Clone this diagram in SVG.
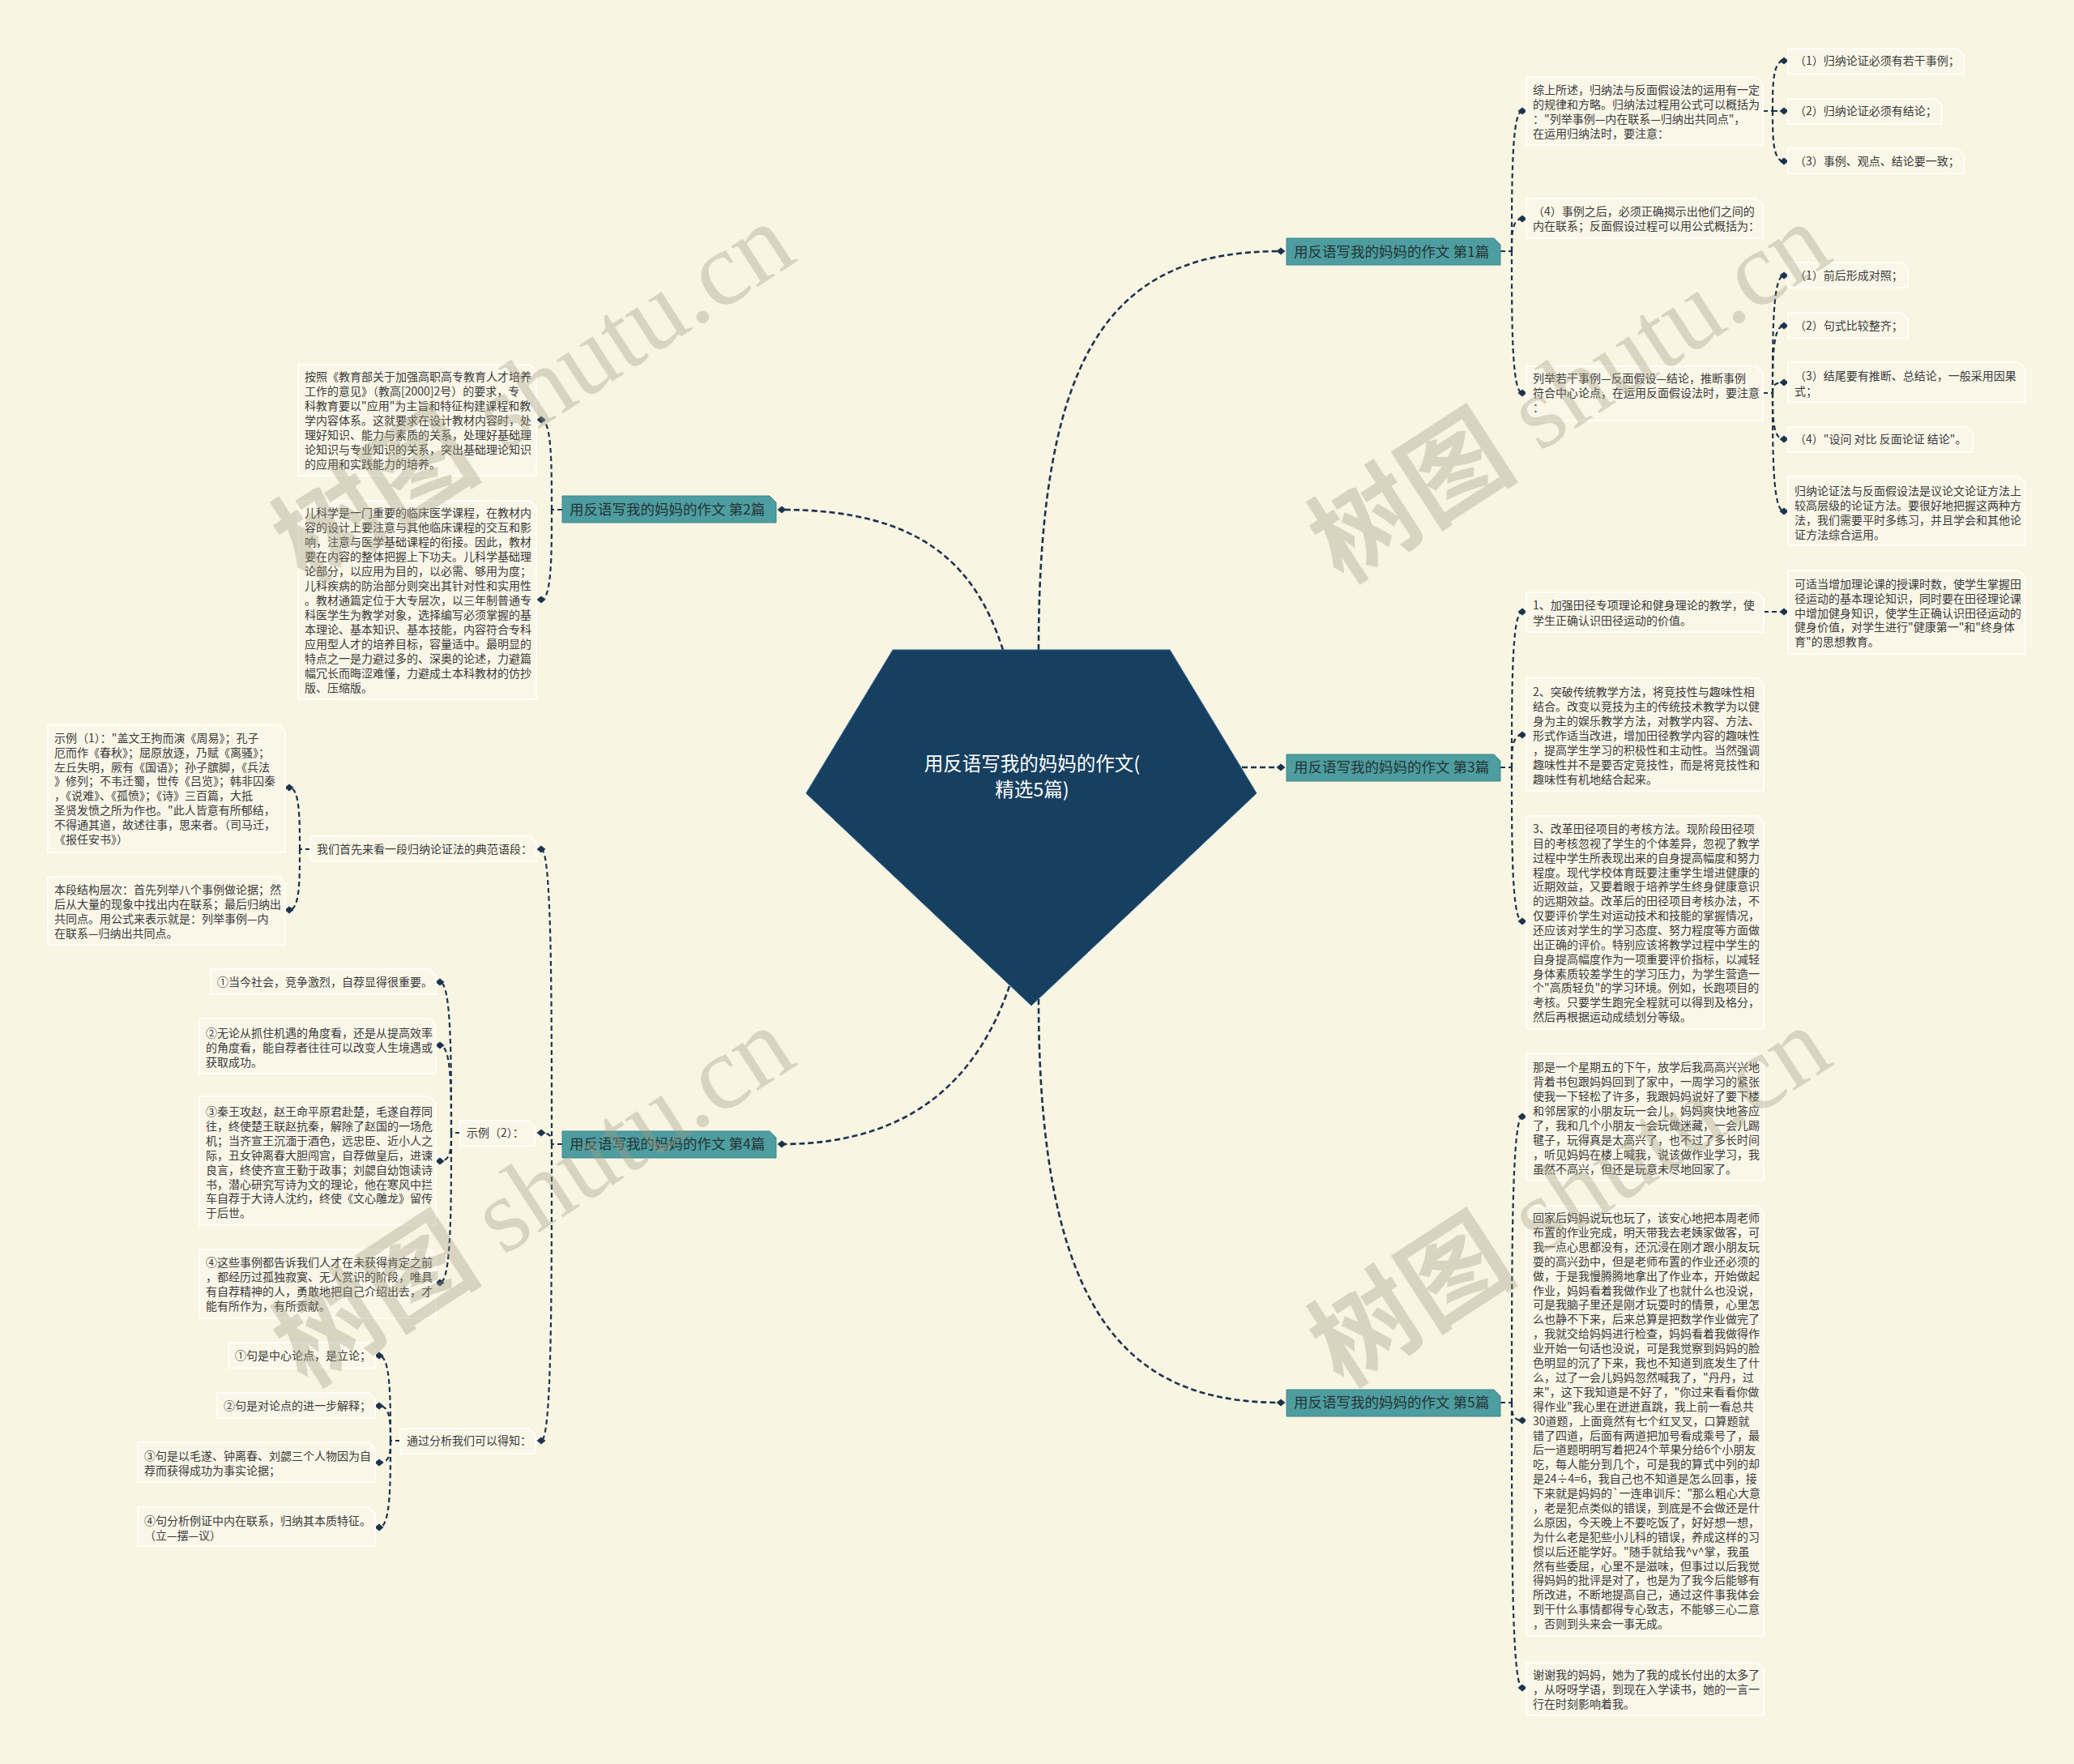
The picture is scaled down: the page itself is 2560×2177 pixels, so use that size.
<svg xmlns="http://www.w3.org/2000/svg" width="2560" height="2177" viewBox="0 0 2560 2177">
<defs>
<style>
.bg{fill:#f9f5e3}
.box{fill:#faf7e9;stroke:#fffdf6;stroke-width:2}
.l1{fill:#4e9da0;stroke:#3c878c;stroke-width:1}
.t{font-family:"Noto Sans CJK SC","Noto Sans",sans-serif;font-size:14px;fill:#3a3a3a}
.l1t{font-family:"Noto Sans CJK SC","Noto Sans",sans-serif;font-size:17.5px;fill:#243434}
.ct{font-family:"Noto Sans CJK SC","Noto Sans",sans-serif;font-size:23.5px;fill:#ffffff}
.c{fill:none;stroke:#1c344e;stroke-width:2.2;stroke-dasharray:6 4;marker-end:url(#dm)}
.s{fill:none;stroke:#1c344e;stroke-width:2.2;stroke-dasharray:6 4}
.m{fill:none;stroke:#1c344e;stroke-width:2.6;stroke-dasharray:7 4;marker-end:url(#dm)}
.wm{font-family:"Liberation Serif",serif;font-size:130px;fill:#a09b82;fill-opacity:0.36}
.wmc{font-family:"Noto Sans CJK SC",sans-serif;font-weight:bold}
</style>
<marker id="dm" viewBox="-6 -6 12 12" markerWidth="12" markerHeight="12" refX="0" refY="0" orient="auto" markerUnits="userSpaceOnUse">
<path d="M-5.5,0 L0,-4.5 L5.5,0 L0,4.5 Z" fill="#1c344e"/>
</marker>
</defs>
<rect class="bg" x="0" y="0" width="2560" height="2177"/>

<g id="connectors">
<path class="m" d="M1282,802 C1282,420 1380,310 1581,310"/>
<path class="m" d="M1238,802 C1205,700 1140,629 965,629"/>
<path class="m" d="M1500,947 L1581,947"/>
<path class="m" d="M1246,1217 C1212,1315 1140,1412 965,1412"/>
<path class="m" d="M1282,1233 C1282,1620 1390,1731 1581,1731"/>

<path class="s" d="M1852,310 H1866"/>
<path class="c" d="M1866,310 C1866,224 1866,137 1879,137"/>
<path class="c" d="M1866,310 C1866,290 1866,270 1879,270"/>
<path class="c" d="M1866,310 C1866,398 1866,485 1879,485"/>
<path class="s" d="M2176,137 H2188"/>
<path class="c" d="M2188,137 C2188,106 2188,75 2202,75"/>
<path class="c" d="M2188,137 L2202,137"/>
<path class="c" d="M2188,137 C2188,168 2188,199 2202,199"/>
<path class="s" d="M2176,485 H2188"/>
<path class="c" d="M2188,485 C2188,412 2188,340 2202,340"/>
<path class="c" d="M2188,485 C2188,444 2188,402 2202,402"/>
<path class="c" d="M2188,485 C2188,478 2188,472 2202,472"/>
<path class="c" d="M2188,485 C2188,514 2188,542 2202,542"/>
<path class="c" d="M2188,485 C2188,558 2188,631 2202,631"/>

<path class="s" d="M1852,947 H1866"/>
<path class="c" d="M1866,947 C1866,851 1866,755 1879,755"/>
<path class="c" d="M1866,947 C1866,927 1866,907 1879,907"/>
<path class="c" d="M1866,947 C1866,1042 1866,1137 1879,1137"/>
<path class="c" d="M2177,755 L2202,755"/>

<path class="s" d="M1852,1731 H1866"/>
<path class="c" d="M1866,1731 C1866,1554 1866,1378 1879,1378"/>
<path class="c" d="M1866,1731 C1866,1742 1866,1753 1879,1753"/>
<path class="c" d="M1866,1731 C1866,1907 1866,2083 1879,2083"/>

<path class="s" d="M694,629 H681"/>
<path class="c" d="M681,629 C681,574 681,518 668,518"/>
<path class="c" d="M681,629 C681,684 681,740 668,740"/>

<path class="s" d="M694,1412 H681"/>
<path class="c" d="M681,1412 C681,1230 681,1048 668,1048"/>
<path class="c" d="M681,1412 C681,1405 681,1398 668,1398"/>
<path class="c" d="M681,1412 C681,1595 681,1778 668,1778"/>

<path class="s" d="M383,1048 H370"/>
<path class="c" d="M370,1048 C370,1010 370,972 357,972"/>
<path class="c" d="M370,1048 C370,1086 370,1123 357,1123"/>

<path class="s" d="M568,1398 H557"/>
<path class="c" d="M557,1398 C557,1305 557,1212 543,1212"/>
<path class="c" d="M557,1398 C557,1344 557,1290 543,1290"/>
<path class="c" d="M557,1398 C557,1416 557,1433 543,1433"/>
<path class="c" d="M557,1398 C557,1490 557,1583 543,1583"/>

<path class="s" d="M494,1778 H482"/>
<path class="c" d="M482,1778 C482,1726 482,1673 468,1673"/>
<path class="c" d="M482,1778 C482,1756 482,1735 468,1735"/>
<path class="c" d="M482,1778 C482,1792 482,1805 468,1805"/>
<path class="c" d="M482,1778 C482,1832 482,1885 468,1885"/>
</g>

<g id="center">
<polygon points="1102,802 1444,802 1551,979 1273,1241 995,979" fill="#173f5f" stroke="#2a5f8f" stroke-width="1"/>
<text class="ct" text-anchor="middle"><tspan x="1274" y="951">用反语写我的妈妈的作文(</tspan><tspan x="1274" y="983">精选5篇)</tspan></text>
</g>

<g id="p1">
<path class="l1" d="M1588,294 H1844 L1852,302 V327 H1588 Z"/>
<text class="l1t" x="1597" y="316.5">用反语写我的妈妈的作文 第1篇</text>
</g>
<g id="p1a">
<path class="box" d="M1884,95 H2168 L2176,103 V179 H1884 Z"/>
<text class="t"><tspan x="1892" y="116">综上所述，归纳法与反面假设法的运用有一定</tspan><tspan x="1892" dy="18">的规律和方略。归纳法过程用公式可以概括为</tspan><tspan x="1892" dy="18">："列举事例—内在联系—归纳出共同点"，</tspan><tspan x="1892" dy="18">在运用归纳法时，要注意：</tspan></text>
</g>
<g id="p1a1"><path class="box" d="M2207,60 H2416 L2424,68 V91 H2207 Z"/><text class="t" x="2215" y="80">（1）归纳论证必须有若干事例；</text></g>
<g id="p1a2"><path class="box" d="M2207,122 H2389 L2397,130 V153 H2207 Z"/><text class="t" x="2215" y="142">（2）归纳论证必须有结论；</text></g>
<g id="p1a3"><path class="box" d="M2207,183 H2416 L2424,191 V214 H2207 Z"/><text class="t" x="2215" y="204">（3）事例、观点、结论要一致；</text></g>
<g id="p1b">
<path class="box" d="M1884,245 H2168 L2176,253 V294 H1884 Z"/>
<text class="t"><tspan x="1892" y="266">（4）事例之后，必须正确揭示出他们之间的</tspan><tspan x="1892" dy="18">内在联系；反面假设过程可以用公式概括为：</tspan></text>
</g>
<g id="p1c">
<path class="box" d="M1884,452 H2168 L2176,460 V519 H1884 Z"/>
<text class="t"><tspan x="1892" y="472">列举若干事例—反面假设—结论，推断事例</tspan><tspan x="1892" dy="18">符合中心论点，在运用反面假设法时，要注意</tspan><tspan x="1892" dy="18">：</tspan></text>
</g>
<g id="p1c1"><path class="box" d="M2207,324 H2347 L2355,332 V355 H2207 Z"/><text class="t" x="2215" y="345">（1）前后形成对照；</text></g>
<g id="p1c2"><path class="box" d="M2207,386 H2347 L2355,394 V417 H2207 Z"/><text class="t" x="2215" y="407">（2）句式比较整齐；</text></g>
<g id="p1c3"><path class="box" d="M2207,447 H2492 L2500,455 V496 H2207 Z"/><text class="t"><tspan x="2215" y="469">（3）结尾要有推断、总结论，一般采用因果</tspan><tspan x="2215" dy="19">式；</tspan></text></g>
<g id="p1c4"><path class="box" d="M2207,527 H2427 L2435,535 V558 H2207 Z"/><text class="t" x="2215" y="547">（4）"设问 对比 反面论证 结论"。</text></g>
<g id="p1c5"><path class="box" d="M2207,588 H2492 L2500,596 V673 H2207 Z"/><text class="t"><tspan x="2215" y="611">归纳论证法与反面假设法是议论文论证方法上</tspan><tspan x="2215" dy="18">较高层级的论证方法。要很好地把握这两种方</tspan><tspan x="2215" dy="18">法，我们需要平时多练习，并且学会和其他论</tspan><tspan x="2215" dy="18">证方法综合运用。</tspan></text></g>

<g id="p3">
<path class="l1" d="M1588,931 H1844 L1852,939 V964 H1588 Z"/>
<text class="l1t" x="1597" y="953">用反语写我的妈妈的作文 第3篇</text>
</g>
<g id="p3a"><path class="box" d="M1884,731 H2169 L2177,739 V780 H1884 Z"/><text class="t"><tspan x="1892" y="752">1、加强田径专项理论和健身理论的教学，使</tspan><tspan x="1892" dy="19">学生正确认识田径运动的价值。</tspan></text></g>
<g id="p3a1"><path class="box" d="M2207,704 H2492 L2500,712 V807 H2207 Z"/><text class="t"><tspan x="2215" y="726">可适当增加理论课的授课时数，使学生掌握田</tspan><tspan x="2215" dy="17.8">径运动的基本理论知识，同时要在田径理论课</tspan><tspan x="2215" dy="17.8">中增加健身知识，使学生正确认识田径运动的</tspan><tspan x="2215" dy="17.8">健身价值，对学生进行"健康第一"和"终身体</tspan><tspan x="2215" dy="17.8">育"的思想教育。</tspan></text></g>
<g id="p3b"><path class="box" d="M1884,837 H2169 L2177,845 V976 H1884 Z"/><text class="t"><tspan x="1892" y="859">2、突破传统教学方法，将竞技性与趣味性相</tspan><tspan x="1892" dy="18">结合。改变以竞技为主的传统技术教学为以健</tspan><tspan x="1892" dy="18">身为主的娱乐教学方法，对教学内容、方法、</tspan><tspan x="1892" dy="18">形式作适当改进，增加田径教学内容的趣味性</tspan><tspan x="1892" dy="18">，提高学生学习的积极性和主动性。当然强调</tspan><tspan x="1892" dy="18">趣味性并不是要否定竞技性，而是将竞技性和</tspan><tspan x="1892" dy="18">趣味性有机地结合起来。</tspan></text></g>
<g id="p3c"><path class="box" d="M1884,1007 H2169 L2177,1015 V1270 H1884 Z"/><text class="t"><tspan x="1892" y="1028">3、改革田径项目的考核方法。现阶段田径项</tspan><tspan x="1892" dy="17.85">目的考核忽视了学生的个体差异，忽视了教学</tspan><tspan x="1892" dy="17.85">过程中学生所表现出来的自身提高幅度和努力</tspan><tspan x="1892" dy="17.85">程度。现代学校体育既要注重学生增进健康的</tspan><tspan x="1892" dy="17.85">近期效益，又要着眼于培养学生终身健康意识</tspan><tspan x="1892" dy="17.85">的远期效益。改革后的田径项目考核办法，不</tspan><tspan x="1892" dy="17.85">仅要评价学生对运动技术和技能的掌握情况，</tspan><tspan x="1892" dy="17.85">还应该对学生的学习态度、努力程度等方面做</tspan><tspan x="1892" dy="17.85">出正确的评价。特别应该将教学过程中学生的</tspan><tspan x="1892" dy="17.85">自身提高幅度作为一项重要评价指标，以减轻</tspan><tspan x="1892" dy="17.85">身体素质较差学生的学习压力，为学生营造一</tspan><tspan x="1892" dy="17.85">个"高质轻负"的学习环境。例如，长跑项目的</tspan><tspan x="1892" dy="17.85">考核。只要学生跑完全程就可以得到及格分，</tspan><tspan x="1892" dy="17.85">然后再根据运动成绩划分等级。</tspan></text></g>

<g id="p5">
<path class="l1" d="M1588,1715 H1844 L1852,1723 V1748 H1588 Z"/>
<text class="l1t" x="1597" y="1737">用反语写我的妈妈的作文 第5篇</text>
</g>
<g id="p5a"><path class="box" d="M1884,1300 H2169 L2177,1308 V1457 H1884 Z"/><text class="t"><tspan x="1892" y="1322">那是一个星期五的下午，放学后我高高兴兴地</tspan><tspan x="1892" dy="18">背着书包跟妈妈回到了家中，一周学习的紧张</tspan><tspan x="1892" dy="18">使我一下轻松了许多，我跟妈妈说好了要下楼</tspan><tspan x="1892" dy="18">和邻居家的小朋友玩一会儿，妈妈爽快地答应</tspan><tspan x="1892" dy="18">了，我和几个小朋友一会玩做迷藏，一会儿踢</tspan><tspan x="1892" dy="18">毽子，玩得真是太高兴了，也不过了多长时间</tspan><tspan x="1892" dy="18">，听见妈妈在楼上喊我，说该做作业学习，我</tspan><tspan x="1892" dy="18">虽然不高兴，但还是玩意未尽地回家了。</tspan></text></g>
<g id="p5b"><path class="box" d="M1884,1488 H2169 L2177,1496 V2019 H1884 Z"/><text class="t"><tspan x="1892" y="1508">回家后妈妈说玩也玩了，该安心地把本周老师</tspan><tspan x="1892" dy="17.9">布置的作业完成，明天带我去老姨家做客，可</tspan><tspan x="1892" dy="17.9">我一点心思都没有，还沉浸在刚才跟小朋友玩</tspan><tspan x="1892" dy="17.9">耍的高兴劲中，但是老师布置的作业还必须的</tspan><tspan x="1892" dy="17.9">做，于是我慢腾腾地拿出了作业本，开始做起</tspan><tspan x="1892" dy="17.9">作业，妈妈看着我做作业了也就什么也没说，</tspan><tspan x="1892" dy="17.9">可是我脑子里还是刚才玩耍时的情景，心里怎</tspan><tspan x="1892" dy="17.9">么也静不下来，后来总算是把数学作业做完了</tspan><tspan x="1892" dy="17.9">，我就交给妈妈进行检查，妈妈看着我做得作</tspan><tspan x="1892" dy="17.9">业开始一句话也没说，可是我觉察到妈妈的脸</tspan><tspan x="1892" dy="17.9">色明显的沉了下来，我也不知道到底发生了什</tspan><tspan x="1892" dy="17.9">么，过了一会儿妈妈忽然喊我了，"丹丹，过</tspan><tspan x="1892" dy="17.9">来"，这下我知道是不好了，"你过来看看你做</tspan><tspan x="1892" dy="17.9">得作业"我心里在迸迸直跳，我上前一看总共</tspan><tspan x="1892" dy="17.9">30道题，上面竟然有七个红叉叉，口算题就</tspan><tspan x="1892" dy="17.9">错了四道，后面有两道把加号看成乘号了，最</tspan><tspan x="1892" dy="17.9">后一道题明明写着把24个苹果分给6个小朋友</tspan><tspan x="1892" dy="17.9">吃，每人能分到几个，可是我的算式中列的却</tspan><tspan x="1892" dy="17.9">是24÷4=6，我自己也不知道是怎么回事，接</tspan><tspan x="1892" dy="17.9">下来就是妈妈的`一连串训斥："那么粗心大意</tspan><tspan x="1892" dy="17.9">，老是犯点类似的错误，到底是不会做还是什</tspan><tspan x="1892" dy="17.9">么原因，今天晚上不要吃饭了，好好想一想，</tspan><tspan x="1892" dy="17.9">为什么老是犯些小儿科的错误，养成这样的习</tspan><tspan x="1892" dy="17.9">惯以后还能学好。"随手就给我^v^掌，我虽</tspan><tspan x="1892" dy="17.9">然有些委屈，心里不是滋味，但事过以后我觉</tspan><tspan x="1892" dy="17.9">得妈妈的批评是对了，也是为了我今后能够有</tspan><tspan x="1892" dy="17.9">所改进，不断地提高自己，通过这件事我体会</tspan><tspan x="1892" dy="17.9">到干什么事情都得专心致志，不能够三心二意</tspan><tspan x="1892" dy="17.9">，否则到头来会一事无成。</tspan></text></g>
<g id="p5c"><path class="box" d="M1884,2052 H2169 L2177,2060 V2117 H1884 Z"/><text class="t"><tspan x="1892" y="2072">谢谢我的妈妈，她为了我的成长付出的太多了</tspan><tspan x="1892" dy="18">，从呀呀学语，到现在入学读书，她的一言一</tspan><tspan x="1892" dy="18">行在时刻影响着我。</tspan></text></g>

<g id="p2">
<path class="l1" d="M694,612 H950 L958,620 V645 H694 Z"/>
<text class="l1t" x="703" y="635">用反语写我的妈妈的作文 第2篇</text>
</g>
<g id="p2a"><path class="box" d="M368,450 H654 L662,458 V587 H368 Z"/><text class="t"><tspan x="376" y="470">按照《教育部关于加强高职高专教育人才培养</tspan><tspan x="376" dy="18">工作的意见》（教高[2000]2号）的要求，专</tspan><tspan x="376" dy="18">科教育要以"应用"为主旨和特征构建课程和教</tspan><tspan x="376" dy="18">学内容体系。这就要求在设计教材内容时，处</tspan><tspan x="376" dy="18">理好知识、能力与素质的关系，处理好基础理</tspan><tspan x="376" dy="18">论知识与专业知识的关系，突出基础理论知识</tspan><tspan x="376" dy="18">的应用和实践能力的培养。</tspan></text></g>
<g id="p2b"><path class="box" d="M368,618 H654 L662,626 V863 H368 Z"/><text class="t"><tspan x="376" y="638">儿科学是一门重要的临床医学课程，在教材内</tspan><tspan x="376" dy="18">容的设计上要注意与其他临床课程的交互和影</tspan><tspan x="376" dy="18">响，注意与医学基础课程的衔接。因此，教材</tspan><tspan x="376" dy="18">要在内容的整体把握上下功夫。儿科学基础理</tspan><tspan x="376" dy="18">论部分，以应用为目的，以必需、够用为度；</tspan><tspan x="376" dy="18">儿科疾病的防治部分则突出其针对性和实用性</tspan><tspan x="376" dy="18">。教材通篇定位于大专层次，以三年制普通专</tspan><tspan x="376" dy="18">科医学生为教学对象，选择编写必须掌握的基</tspan><tspan x="376" dy="18">本理论、基本知识、基本技能，内容符合专科</tspan><tspan x="376" dy="18">应用型人才的培养目标，容量适中。最明显的</tspan><tspan x="376" dy="18">特点之一是力避过多的、深奥的论述，力避篇</tspan><tspan x="376" dy="18">幅冗长而晦涩难懂，力避成土本科教材的仿抄</tspan><tspan x="376" dy="18">版、压缩版。</tspan></text></g>

<g id="p4">
<path class="l1" d="M694,1396 H950 L958,1404 V1429 H694 Z"/>
<text class="l1t" x="703" y="1418">用反语写我的妈妈的作文 第4篇</text>
</g>
<g id="p4a"><path class="box" d="M383,1032 H654 L662,1040 V1063 H383 Z"/><text class="t" x="391" y="1053">我们首先来看一段归纳论证法的典范语段：</text></g>
<g id="p4a1"><path class="box" d="M59,895 H344 L352,903 V1052 H59 Z"/><text class="t"><tspan x="67" y="916">示例（1）："盖文王拘而演《周易》；孔子</tspan><tspan x="67" dy="17.8">厄而作《春秋》；屈原放逐，乃赋《离骚》；</tspan><tspan x="67" dy="17.8">左丘失明，厥有《国语》；孙子膑脚，《兵法</tspan><tspan x="67" dy="17.8">》修列；不韦迁蜀，世传《吕览》；韩非囚秦</tspan><tspan x="67" dy="17.8">，《说难》、《孤愤》；《诗》三百篇，大抵</tspan><tspan x="67" dy="17.8">圣贤发愤之所为作也。"此人皆意有所郁结，</tspan><tspan x="67" dy="17.8">不得通其道，故述往事，思来者。（司马迁，</tspan><tspan x="67" dy="17.8">《报任安书》）</tspan></text></g>
<g id="p4a2"><path class="box" d="M59,1082 H344 L352,1090 V1166 H59 Z"/><text class="t"><tspan x="67" y="1103">本段结构层次：首先列举八个事例做论据；然</tspan><tspan x="67" dy="18">后从大量的现象中找出内在联系；最后归纳出</tspan><tspan x="67" dy="18">共同点。用公式来表示就是：列举事例—内</tspan><tspan x="67" dy="18">在联系—归纳出共同点。</tspan></text></g>
<g id="p4b"><path class="box" d="M568,1383 H652 L660,1391 V1414 H568 Z"/><text class="t" x="576" y="1403">示例（2）：</text></g>
<g id="p4b1"><path class="box" d="M260,1196 H530 L538,1204 V1227 H260 Z"/><text class="t" x="268" y="1217">①当今社会，竞争激烈，自荐显得很重要。</text></g>
<g id="p4b2"><path class="box" d="M246,1257 H530 L538,1265 V1325 H246 Z"/><text class="t"><tspan x="254" y="1280">②无论从抓住机遇的角度看，还是从提高效率</tspan><tspan x="254" dy="18">的角度看，能自荐者往往可以改变人生境遇或</tspan><tspan x="254" dy="18">获取成功。</tspan></text></g>
<g id="p4b3"><path class="box" d="M246,1353 H530 L538,1361 V1512 H246 Z"/><text class="t"><tspan x="254" y="1377">③秦王攻赵，赵王命平原君赴楚，毛遂自荐同</tspan><tspan x="254" dy="17.9">往，终使楚王联赵抗秦，解除了赵国的一场危</tspan><tspan x="254" dy="17.9">机；当齐宣王沉湎于酒色，远忠臣、近小人之</tspan><tspan x="254" dy="17.9">际，丑女钟离春大胆闯宫，自荐做皇后，进谏</tspan><tspan x="254" dy="17.9">良言，终使齐宣王勤于政事；刘勰自幼饱读诗</tspan><tspan x="254" dy="17.9">书，潜心研究写诗为文的理论，他在寒风中拦</tspan><tspan x="254" dy="17.9">车自荐于大诗人沈约，终使《文心雕龙》留传</tspan><tspan x="254" dy="17.9">于后世。</tspan></text></g>
<g id="p4b4"><path class="box" d="M246,1542 H530 L538,1550 V1627 H246 Z"/><text class="t"><tspan x="254" y="1563">④这些事例都告诉我们人才在未获得肯定之前</tspan><tspan x="254" dy="17.9">，都经历过孤独寂寞、无人赏识的阶段，唯具</tspan><tspan x="254" dy="17.9">有自荐精神的人，勇敢地把自己介绍出去，才</tspan><tspan x="254" dy="17.9">能有所作为，有所贡献。</tspan></text></g>
<g id="p4c"><path class="box" d="M494,1763 H653 L661,1771 V1794 H494 Z"/><text class="t" x="502" y="1783">通过分析我们可以得知：</text></g>
<g id="p4c1"><path class="box" d="M282,1657 H455 L463,1665 V1688 H282 Z"/><text class="t" x="290" y="1678">①句是中心论点，是立论；</text></g>
<g id="p4c2"><path class="box" d="M268,1719 H455 L463,1727 V1750 H268 Z"/><text class="t" x="276" y="1740">②句是对论点的进一步解释；</text></g>
<g id="p4c3"><path class="box" d="M170,1780 H455 L463,1788 V1829 H170 Z"/><text class="t"><tspan x="178" y="1802">③句是以毛遂、钟离春、刘勰三个人物因为自</tspan><tspan x="178" dy="18">荐而获得成功为事实论据；</tspan></text></g>
<g id="p4c4"><path class="box" d="M170,1860 H455 L463,1868 V1908 H170 Z"/><text class="t"><tspan x="178" y="1882">④句分析例证中内在联系，归纳其本质特征。</tspan><tspan x="178" dy="18">（立—摆—议）</tspan></text></g>

<g id="watermarks">
<text class="wm" text-anchor="middle" dominant-baseline="middle" transform="translate(665,494) rotate(-33)"><tspan class="wmc">树图</tspan> shutu.cn</text>
<text class="wm" text-anchor="middle" dominant-baseline="middle" transform="translate(1944,494) rotate(-33)"><tspan class="wmc">树图</tspan> shutu.cn</text>
<text class="wm" text-anchor="middle" dominant-baseline="middle" transform="translate(665,1486) rotate(-33)"><tspan class="wmc">树图</tspan> shutu.cn</text>
<text class="wm" text-anchor="middle" dominant-baseline="middle" transform="translate(1944,1486) rotate(-33)"><tspan class="wmc">树图</tspan> shutu.cn</text>
</g>
</svg>
